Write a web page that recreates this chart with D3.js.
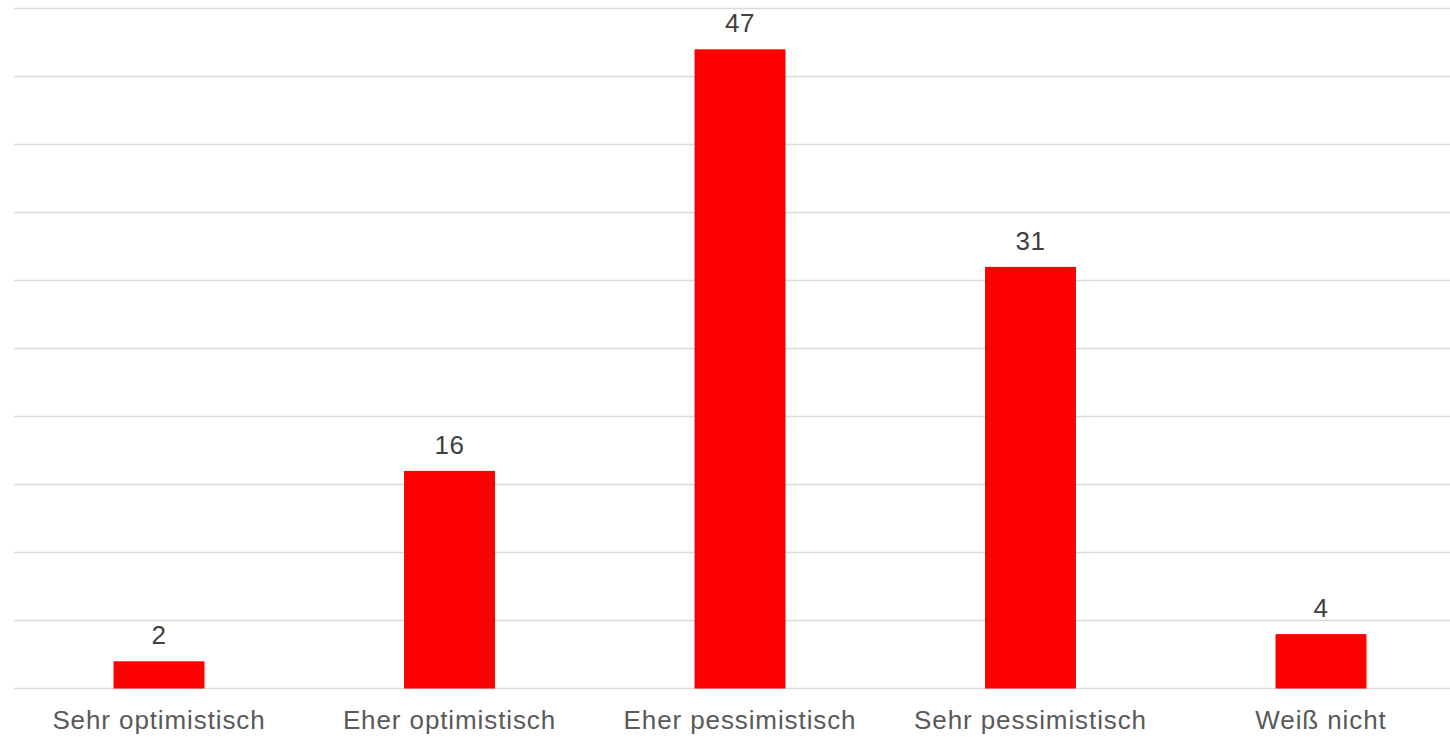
<!DOCTYPE html>
<html><head><meta charset="utf-8">
<script src="https://cdn.jsdelivr.net/npm/d3@7"></script>
<style>html,body{margin:0;padding:0;background:#fff;}svg{display:block;}</style>
</head><body>
<svg id="chart" width="1450" height="737"></svg>
<script>
const categories = ["Sehr optimistisch","Eher optimistisch","Eher pessimistisch","Sehr pessimistisch","Weiß nicht"];
const values = [2,16,47,31,4];
const yTicks = [0,5,10,15,20,25,30,35,40,45,50];

const svg = d3.select("#chart");
const x = d3.scaleBand().domain(categories).range([13.75, 1466.25]).paddingInner(0.687).paddingOuter(0.3435);
const y = d3.scaleLinear().domain([0,50]).range([688.5, 8.5]);

// gridlines
svg.append("g").selectAll("line").data(yTicks).join("line")
  .attr("x1", 14).attr("x2", 1466)
  .attr("y1", d => y(d)).attr("y2", d => y(d))
  .attr("stroke", "#d9d9d9").attr("stroke-width", 1.3);

// bars
svg.append("g").selectAll("rect").data(values).join("rect")
  .attr("x", (d,i) => x(categories[i]))
  .attr("width", x.bandwidth())
  .attr("y", d => y(d))
  .attr("height", d => y(0) - y(d))
  .attr("fill", "#ff0000");

// value labels
svg.append("g").selectAll("text").data(values).join("text")
  .attr("x", (d,i) => x(categories[i]) + x.bandwidth()/2)
  .attr("y", d => y(d) - 17)
  .attr("text-anchor", "middle")
  .attr("font-family", "Liberation Sans, Arial, sans-serif")
  .attr("font-size", 26)
  .attr("letter-spacing", 0.5)
  .attr("fill", "#404040")
  .text(d => d);

// x axis labels
const xAxis = d3.axisBottom(x).tickSize(0).tickPadding(0);
const gx = svg.append("g").attr("transform", `translate(0,${y(0)})`).call(xAxis);
gx.select(".domain").remove();
gx.selectAll("text")
  .attr("y", 40).attr("dy", 0)
  .attr("font-family", "Liberation Sans, Arial, sans-serif")
  .attr("font-size", 26)
  .attr("letter-spacing", 0.9)
  .attr("fill", "#595959");
</script>
</body></html>
